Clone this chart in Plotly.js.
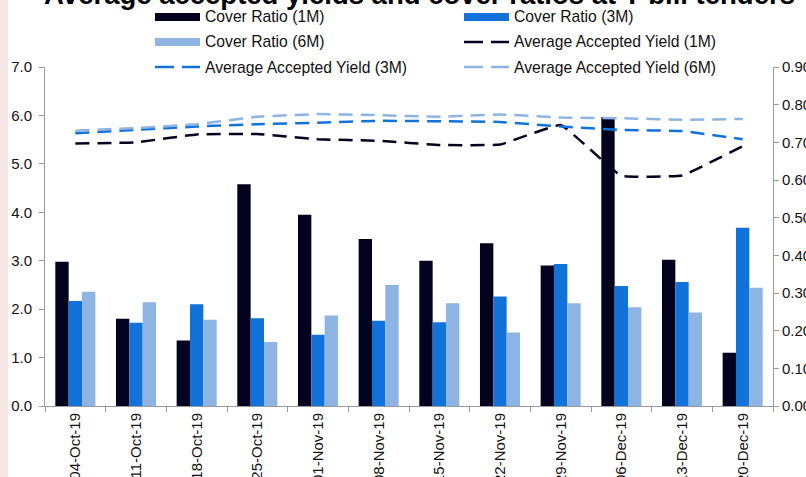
<!DOCTYPE html>
<html>
<head>
<meta charset="utf-8">
<script src="https://cdn.plot.ly/plotly-3.0.1.min.js"></script>
<style>
html,body{margin:0;padding:0;background:#fff;}
#chart{width:806px;height:477px;}
</style>
</head>
<body>
<div id="chart"></div>
<script>
// ---- data ----
var categories = ["04-Oct-19","11-Oct-19","18-Oct-19","25-Oct-19","01-Nov-19","08-Nov-19","15-Nov-19","22-Nov-19","29-Nov-19","06-Dec-19","13-Dec-19","20-Dec-19"];
var cover1M = [2.98, 1.80, 1.35, 4.58, 3.95, 3.45, 3.00, 3.36, 2.90, 5.96, 3.02, 1.10];
var cover3M = [2.17, 1.72, 2.10, 1.81, 1.47, 1.76, 1.73, 2.26, 2.93, 2.48, 2.56, 3.68];
var cover6M = [2.36, 2.14, 1.78, 1.32, 1.87, 2.50, 2.12, 1.52, 2.12, 2.04, 1.93, 2.44];
var yield1M = [0.697, 0.700, 0.721, 0.722, 0.708, 0.704, 0.693, 0.694, 0.746, 0.611, 0.612, 0.690];
var yield3M = [0.724, 0.733, 0.742, 0.748, 0.752, 0.757, 0.756, 0.754, 0.742, 0.733, 0.730, 0.708];
var yield6M = [0.731, 0.738, 0.748, 0.768, 0.775, 0.772, 0.768, 0.774, 0.766, 0.764, 0.760, 0.762];
var leftTicks = [0,1,2,3,4,5,6,7];
var rightTicks = [0,0.1,0.2,0.3,0.4,0.5,0.6,0.7,0.8,0.9];
var titleText = "Average accepted yields and cover ratios at T-bill tenders";
var seriesNames = ["Cover Ratio (1M)","Cover Ratio (3M)","Cover Ratio (6M)","Average Accepted Yield (1M)","Average Accepted Yield (3M)","Average Accepted Yield (6M)"];

// ---- style ----
var C1 = "#03021f", C3 = "#1172d9", C6 = "#8db4e3";
var W = 806, H = 477;
var L = 45, R = 33, T = 67, B = 71;
var pw = W - L - R, ph = H - T - B;
function px(x){ return (x - L) / pw; }
function py(y){ return (H - B - y) / ph; }
var FONT = "Liberation Sans, Arial, sans-serif";
var dashPat = "14px,8px";
var lineStyle = function(c){ return {color:c, width:2.5, dash:dashPat, shape:"spline", smoothing:0.25}; };

var traces = [
  {type:"bar", name:seriesNames[0], x:categories, y:cover1M, marker:{color:C1}, yaxis:"y"},
  {type:"bar", name:seriesNames[1], x:categories, y:cover3M, marker:{color:C3}, yaxis:"y"},
  {type:"bar", name:seriesNames[2], x:categories, y:cover6M, marker:{color:C6}, yaxis:"y"},
  {type:"scatter", mode:"lines", name:seriesNames[3], x:categories, y:yield1M, yaxis:"y2", line:lineStyle(C1)},
  {type:"scatter", mode:"lines", name:seriesNames[4], x:categories, y:yield3M, yaxis:"y2", line:lineStyle(C3)},
  {type:"scatter", mode:"lines", name:seriesNames[5], x:categories, y:yield6M, yaxis:"y2", line:lineStyle(C6)}
];

// ---- custom legend (3 rows x 2 columns) ----
var shapes = [];
var annotations = [];
// background strip on the left
shapes.push({type:"rect", xref:"paper", yref:"paper", x0:px(0), x1:px(8), y0:py(H), y1:py(0),
  fillcolor:"#f6e6e3", line:{width:0}, layer:"below"});
var legendCols = [155, 464];
var legendRows = [17, 42, 67];
var legendColors = [C1, C3, C6, C1, C3, C6];
for (var i = 0; i < seriesNames.length; i++) {
  var cx = legendCols[i % 2], cy = legendRows[Math.floor(i / 2)];
  if (i < 3) {
    shapes.push({type:"rect", xref:"paper", yref:"paper", x0:px(cx), x1:px(cx+45),
      y0:py(cy+4), y1:py(cy-4), fillcolor:legendColors[i], line:{width:0}});
  } else {
    shapes.push({type:"line", xref:"paper", yref:"paper", x0:px(cx), x1:px(cx+19),
      y0:py(cy), y1:py(cy), line:{color:legendColors[i], width:2.5}});
    shapes.push({type:"line", xref:"paper", yref:"paper", x0:px(cx+27), x1:px(cx+45),
      y0:py(cy), y1:py(cy), line:{color:legendColors[i], width:2.5}});
  }
  annotations.push({xref:"paper", yref:"paper", x:px(cx+48), y:py(cy), xanchor:"left", yanchor:"middle",
    text:seriesNames[i], showarrow:false, font:{family:FONT, size:15.7, color:"#111"}});
}
annotations.push({xref:"paper", yref:"paper", x:px(420), y:py(-5), xanchor:"center", yanchor:"middle",
  text:"<b>" + titleText + "</b>", showarrow:false, font:{family:FONT, size:27.5, color:"#000"}});

var axisCommon = {
  showgrid:false, zeroline:false, showline:true, linecolor:"#9a9a9a", linewidth:1,
  ticks:"outside", ticklen:5, tickcolor:"#9a9a9a",
  tickfont:{family:FONT, size:15, color:"#111"}
};

var layout = {
  width:W, height:H,
  margin:{l:L, r:R, t:T, b:B, pad:0},
  paper_bgcolor:"#ffffff", plot_bgcolor:"#ffffff",
  showlegend:false,
  barmode:"group", bargap:0.34, bargroupgap:0,
  font:{family:FONT, size:15, color:"#111"},
  xaxis:Object.assign({}, axisCommon, {type:"category", tickangle:-90, tickson:"boundaries",
    ticklen:5, automargin:false}),
  yaxis:Object.assign({}, axisCommon, {range:[0,7], tickvals:leftTicks, tickformat:".1f",
    automargin:false, ticklabelstandoff:4}),
  yaxis2:Object.assign({}, axisCommon, {overlaying:"y", side:"right", range:[0,0.9],
    tickvals:rightTicks, tickformat:".2f", automargin:false}),
  shapes:shapes,
  annotations:annotations
};

Plotly.newPlot("chart", traces, layout, {displayModeBar:false, staticPlot:true});
</script>
</body>
</html>
